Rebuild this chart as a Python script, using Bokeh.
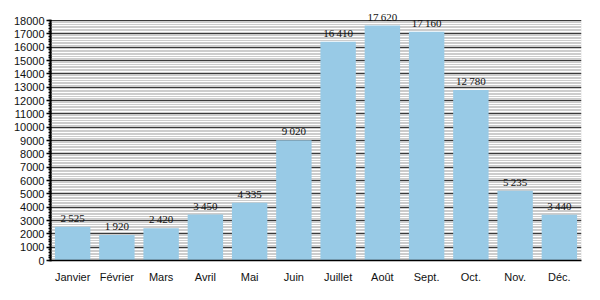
from bokeh.plotting import figure
from bokeh.models import (ColumnDataSource, FixedTicker, Range1d, LabelSet,
                          BoxAnnotation)
from bokeh.embed import file_html
from bokeh.resources import INLINE

months = ["Janvier", "Février", "Mars", "Avril", "Mai", "Juin", "Juillet",
          "Août", "Sept.", "Oct.", "Nov.", "Déc."]
values = [2525, 1920, 2420, 3450, 4335, 9020, 16410, 17620, 17160, 12780, 5235, 3440]
y_max = 18000
y_major = list(range(0, y_max + 1, 1000))
y_minor = list(range(0, y_max + 1, 200))

labels = ["{:,}".format(v).replace(",", "\u2009") for v in values]
src = ColumnDataSource(dict(m=months, v=values, lab=labels))

p = figure(x_range=months, width=600, height=300, output_backend="svg",
           toolbar_location=None, min_border_left=50, min_border_right=19,
           min_border_top=8, min_border_bottom=40)
p.y_range = Range1d(0, y_max * 1.05)
p.x_range.range_padding = 0
p.outline_line_color = None
p.background_fill_color = "white"
p.border_fill_color = "white"

band = BoxAnnotation(bottom=0, top=y_max, fill_color="#cccccc", fill_alpha=1,
                     line_color=None, level="image")
p.add_layout(band)

p.vbar(x="m", top="v", width=0.8, source=src, fill_color="#98cae6", line_color=None)
ls = LabelSet(x="m", y="v", text="lab", source=src, text_align="center",
              text_baseline="alphabetic", y_offset=5, text_font_size="11px",
              text_font="Liberation Sans", text_color="#111111")
p.add_layout(ls)

p.yaxis.ticker = FixedTicker(ticks=y_major, minor_ticks=y_minor)
p.yaxis.bounds = (0, y_max)
p.ygrid.grid_line_color = "#3a3a3a"
p.ygrid.grid_line_width = 1.2
p.ygrid.minor_grid_line_color = "white"
p.ygrid.minor_grid_line_width = 1
p.xgrid.grid_line_color = None

for ax in (p.xaxis, p.yaxis):
    ax.axis_line_color = "black"
    ax.major_label_text_font = "Liberation Sans"
    ax.major_label_text_font_size = "11px"
    ax.major_label_text_color = "#111111"

p.yaxis.axis_line_width = 2
p.yaxis.major_tick_out = 4
p.yaxis.major_tick_in = 1
p.yaxis.minor_tick_out = 2
p.yaxis.minor_tick_in = 1
p.yaxis.major_tick_line_width = 1.5
p.yaxis.minor_tick_line_width = 1.5
p.yaxis.major_label_standoff = 2

p.xaxis.axis_line_width = 1.5
p.xaxis.major_tick_line_color = None
p.xaxis.minor_tick_line_color = None
p.xaxis.major_label_standoff = 4

open("out.html", "w").write(file_html(p, INLINE))
